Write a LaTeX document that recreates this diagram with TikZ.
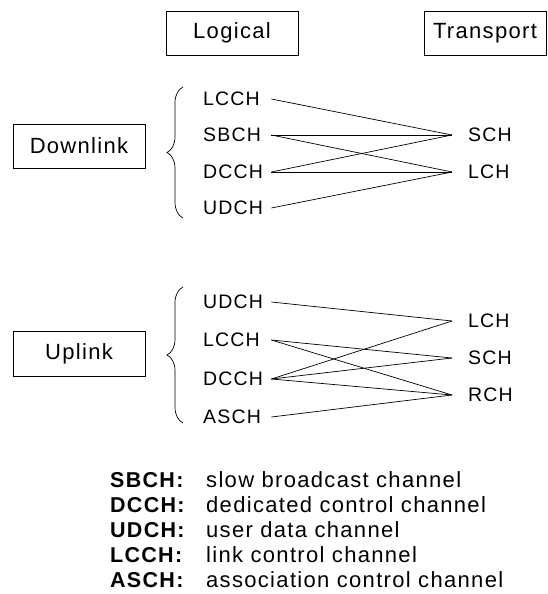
\documentclass[tikz,border=0pt]{standalone}
\usepackage{fontspec}
\setmainfont[LetterSpace=6]{Liberation Sans}
\usetikzlibrary{decorations.pathreplacing}

\tikzset{
  headbox/.style = {draw, line width = 0.8pt, minimum width = 132pt, minimum height = 44pt, inner sep = 0pt, font = \fontsize{22}{26}\selectfont},
  logch/.style = {anchor = west, inner sep = 0pt, text width = 68pt, align = left, font = \fontsize{19.5}{23}\selectfont},
  trch/.style = {anchor = west, inner xsep = 16pt, inner ysep = 0pt, font = \fontsize{19.5}{23}\selectfont},
  link/.style = {line width = 0.7pt},
  chbrace/.style = {decorate, decoration = {brace, amplitude = 16pt}, line width = 0.7pt},
  keyword/.style = {anchor = base west, inner sep = 0pt, font = \fontsize{21.5}{25}\selectfont\bfseries},
  meaning/.style = {anchor = base west, inner sep = 0pt, font = \fontsize{22}{25}\selectfont}
}

\begin{document}
\begin{tikzpicture} [x = 1pt, y = -1pt]
\useasboundingbox (0, 0) rectangle (547, 594);
% column heads
\node[headbox] (logical) at (232, 33){Logical};
\node[headbox, minimum width = 122pt] (transport) at (485, 33){Transport};
% downlink
\node[headbox] (downlink) at (79, 146){Downlink};
\coordinate (dl-top) at (183, 87);
\coordinate (dl-bot) at (183, 218);
\draw[chbrace] (dl-bot) -- (dl-top);
\node[logch] (dl-lcch) at (203, 99){LCCH};
\node[logch] (dl-sbch) at (203, 135){SBCH};
\node[logch] (dl-dcch) at (203, 172){DCCH};
\node[logch] (dl-udch) at (203, 208){UDCH};
\node[trch] (dl-sch) at (452, 135){SCH};
\node[trch] (dl-lch) at (452, 172){LCH};
\draw[link] (dl-lcch.east) -- (dl-sch.west);
\draw[link] (dl-sbch.east) -- (dl-sch.west);
\draw[link] (dl-sbch.east) -- (dl-lch.west);
\draw[link] (dl-dcch.east) -- (dl-sch.west);
\draw[link] (dl-dcch.east) -- (dl-lch.west);
\draw[link] (dl-udch.east) -- (dl-lch.west);
% uplink
\node[headbox, minimum height = 45pt] (uplink) at (79, 354){Uplink};
\coordinate (ul-top) at (183, 287);
\coordinate (ul-bot) at (183, 423);
\draw[chbrace] (ul-bot) -- (ul-top);
\node[logch] (ul-udch) at (203, 302){UDCH};
\node[logch] (ul-lcch) at (203, 340){LCCH};
\node[logch] (ul-dcch) at (203, 379){DCCH};
\node[logch] (ul-asch) at (203, 417){ASCH};
\node[trch] (ul-lch) at (452, 321){LCH};
\node[trch] (ul-sch) at (452, 358){SCH};
\node[trch] (ul-rch) at (452, 395){RCH};
\draw[link] (ul-udch.east) -- (ul-lch.west);
\draw[link] (ul-lcch.east) -- (ul-sch.west);
\draw[link] (ul-lcch.east) -- (ul-rch.west);
\draw[link] (ul-dcch.east) -- (ul-lch.west);
\draw[link] (ul-dcch.east) -- (ul-sch.west);
\draw[link] (ul-dcch.east) -- (ul-rch.west);
\draw[link] (ul-asch.east) -- (ul-rch.west);
% legend
\node[keyword] (k-sbch) at (110, 487){SBCH:};
\node[keyword] (k-dcch) at (110, 512){DCCH:};
\node[keyword] (k-udch) at (110, 537){UDCH:};
\node[keyword] (k-lcch) at (110, 562){LCCH:};
\node[keyword] (k-asch) at (110, 587){ASCH:};
\node[meaning] (m-sbch) at (206, 487){slow broadcast channel};
\node[meaning] (m-dcch) at (206, 512){dedicated control channel};
\node[meaning] (m-udch) at (206, 537){user data channel};
\node[meaning] (m-lcch) at (206, 562){link control channel};
\node[meaning] (m-asch) at (206, 587){association control channel};
\end{tikzpicture}
\end{document}
